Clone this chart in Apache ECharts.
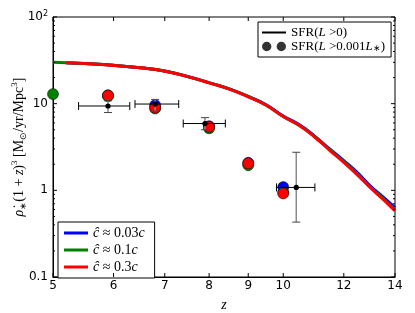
<!DOCTYPE html>
<html><head><meta charset="utf-8">
<script src="https://cdn.jsdelivr.net/npm/echarts@6/dist/echarts.min.js"></script>
<style>html,body{margin:0;padding:0;background:#fff}#c{width:415px;height:313px}</style>
</head><body><div id="c"></div><script>
// ---- data ----
const curveZ     = [5, 5.2, 5.5, 6, 6.5, 7, 7.5, 8, 8.5, 9, 9.5, 10, 10.5, 11, 11.5, 12, 12.5, 13, 13.5, 14];
const curveBlue  = [null, 29.7, 29.0, 27.7, 26.0, 23.8, 20.6, 17.5, 14.8, 12.1, 9.7, 7.2, 5.7, 4.2, 3.0, 2.2, 1.6, 1.12, 0.84, 0.63];
const curveGreen = [30.0, 29.7, 29.0, 27.7, 26.0, 23.8, 20.5, 17.4, 14.8, 12.1, 9.6, 7.1, 5.6, 4.15, 2.95, 2.15, 1.55, 1.09, 0.81, 0.60];
const curveRed   = [null, 29.6, 29.0, 27.6, 25.9, 23.7, 20.5, 17.4, 14.7, 12.0, 9.6, 7.1, 5.6, 4.1, 2.9, 2.1, 1.51, 1.07, 0.79, 0.58];

const ptZBlue  = [5.9, 6.8, 8.0, 9.0, 10.0];
const ptBlue   = [12.5, 9.6, 5.5, 2.08, 1.09];
const ptZGreen = [5.0, 5.9, 6.8, 8.0, 9.0, 10.0];
const ptGreen  = [12.9, 12.2, 8.8, 5.2, 1.95, 0.95];
const ptZRed   = [5.9, 6.8, 8.0, 9.0, 10.0];
const ptRed    = [12.4, 9.0, 5.4, 2.05, 0.92];

const obsZ   = [5.9, 6.8, 7.9, 10.4];
const obsZLo = [5.4, 6.4, 7.4, 9.8];
const obsZHi = [6.3, 7.3, 8.4, 11.0];
const obsV   = [9.4, 9.9, 5.9, 1.08];
const obsVLo = [7.9, 8.2, 5.0, 0.43];
const obsVHi = [10.8, 11.2, 6.9, 2.75];

const xTicks = [5, 6, 7, 8, 9, 10, 12, 14];
const yMajor = [0.1, 1, 10, 100];
const yMinor = [0.2, 0.3, 0.4, 0.5, 0.6, 0.7, 0.8, 0.9, 2, 3, 4, 5, 6, 7, 8, 9, 20, 30, 40, 50, 60, 70, 80, 90];

const X_MIN = 5, X_MAX = 14, Y_MIN = 0.1, Y_MAX = 100;

// ---- helpers ----
function zip(xs, ys) { const out = []; xs.forEach((x, i) => { if (ys[i] != null) out.push([x, ys[i]]); }); return out; }

const serif = 'Liberation Serif';
const sans = 'DejaVu Sans';

const legendLabels = {
  sfr0: '{n|SFR(}{i|L}{n| >0)}',
  sfr1: '{n|SFR(}{i|L}{n| >0.001}{i|L}{s|∗}{n|)}',
  c003: '{i|ĉ}{n| ≈ 0.03}{i|c}',
  c01:  '{i|ĉ}{n| ≈ 0.1}{i|c}',
  c03:  '{i|ĉ}{n| ≈ 0.3}{i|c}'
};
function rich(fs) {
  return {
    n: { fontFamily: serif, fontSize: fs, color: '#000' },
    i: { fontFamily: serif, fontSize: fs, fontStyle: 'italic', color: '#000' },
    s: { fontFamily: serif, fontSize: Math.round(fs * 0.7), color: '#000', verticalAlign: 'bottom' }
  };
}
// line icons: thin band inside a 24x10 box (degenerate corner pieces keep the box)
const lineIcon2 = 'path://M0,0L24,0L24,0.001L0,0.001ZM0,4L24,4L24,6L0,6ZM0,9.999L24,9.999L24,10L0,10Z';
const lineIcon3 = 'path://M0,0L24,0L24,0.001L0,0.001ZM0,3.5L24,3.5L24,6.5L0,6.5ZM0,9.999L24,9.999L24,10L0,10Z';
const dotsIcon = 'path://M0,5a4.5,4.5 0 1,0 9,0a4.5,4.5 0 1,0 -9,0M14,5a4.5,4.5 0 1,0 9,0a4.5,4.5 0 1,0 -9,0';

function errRender(params, api) {
  const z = api.value(0), v = api.value(1), zl = api.value(2), zh = api.value(3), vl = api.value(4), vh = api.value(5);
  const pL = api.coord([zl, v]), pR = api.coord([zh, v]);
  const pB = api.coord([z, vl]), pT = api.coord([z, vh]), pC = api.coord([z, v]);
  const blk = { stroke: '#000', lineWidth: 1 };
  const gry = { stroke: '#8a8a8a', lineWidth: 1.5 };
  const cap = 4;
  return { type: 'group', children: [
    { type: 'line', shape: { x1: pB[0], y1: pB[1], x2: pT[0], y2: pT[1] }, style: gry },
    { type: 'line', shape: { x1: pB[0] - cap, y1: pB[1], x2: pB[0] + cap, y2: pB[1] }, style: { stroke: '#444', lineWidth: 1 } },
    { type: 'line', shape: { x1: pT[0] - cap, y1: pT[1], x2: pT[0] + cap, y2: pT[1] }, style: { stroke: '#444', lineWidth: 1 } },
    { type: 'line', shape: { x1: pL[0], y1: pL[1], x2: pR[0], y2: pR[1] }, style: blk },
    { type: 'line', shape: { x1: pL[0], y1: pL[1] - cap, x2: pL[0], y2: pL[1] + cap }, style: blk },
    { type: 'line', shape: { x1: pR[0], y1: pR[1] - cap, x2: pR[0], y2: pR[1] + cap }, style: blk },
    { type: 'circle', shape: { cx: pC[0], cy: pC[1], r: 2.6 }, style: { fill: '#000' } }
  ] };
}

function xTickRender(params, api) {
  const v = api.value(0);
  const b = api.coord([v, Y_MIN]), t = api.coord([v, Y_MAX]);
  const st = { stroke: '#000', lineWidth: 1 };
  return { type: 'group', children: [
    { type: 'line', shape: { x1: b[0], y1: b[1], x2: b[0], y2: b[1] - 4 }, style: st },
    { type: 'line', shape: { x1: t[0], y1: t[1], x2: t[0], y2: t[1] + 4 }, style: st },
    { type: 'text', x: b[0], y: b[1] + 3, style: { text: String(v), fill: '#000', font: '12px "DejaVu Sans"', textAlign: 'center', textVerticalAlign: 'top' } }
  ] };
}

function yTickRender(len) {
  return function (params, api) {
    const v = api.value(1);
    const l = api.coord([X_MIN, v]), r = api.coord([X_MAX, v]);
    const st = { stroke: '#000', lineWidth: 1 };
    return { type: 'group', children: [
      { type: 'line', shape: { x1: l[0], y1: l[1], x2: l[0] + len, y2: l[1] }, style: st },
      { type: 'line', shape: { x1: r[0], y1: r[1], x2: r[0] - len, y2: r[1] }, style: st }
    ] };
  };
}

const chart = echarts.init(document.getElementById('c'), null, { renderer: 'canvas' });
chart.setOption({
  animation: false,
  backgroundColor: '#fff',
  grid: { left: 53, right: 20, top: 17, bottom: 36, containLabel: false, outerBoundsMode: 'none',
          show: true, borderColor: '#000', borderWidth: 1, backgroundColor: 'transparent' },
  xAxis: {
    type: 'log', logBase: 10, min: X_MIN, max: X_MAX,
    axisLine: { show: true, lineStyle: { color: '#000', width: 1 } },
    axisTick: { show: false }, axisLabel: { show: false }, splitLine: { show: false }, minorTick: { show: false },
    name: 'z', nameLocation: 'middle', nameGap: 21, nameMoveOverlap: false,
    nameTextStyle: { fontFamily: serif, fontStyle: 'italic', fontSize: 14, color: '#000' }
  },
  yAxis: {
    type: 'log', logBase: 10, min: Y_MIN, max: Y_MAX,
    axisLine: { show: true, lineStyle: { color: '#000', width: 1 } },
    axisTick: { show: false }, splitLine: { show: false },
    axisLabel: {
      color: '#000', fontFamily: sans, fontSize: 12, margin: 5,
      formatter: function (v) {
        const n = Number(Number(v).toPrecision(3));
        if (n >= 100) return '{b|10}{s|2}';
        return '{b|' + n + '}';
      },
      rich: {
        b: { fontFamily: sans, fontSize: 12, color: '#000', lineHeight: 15 },
        s: { fontFamily: sans, fontSize: 8, color: '#000', verticalAlign: 'top', lineHeight: 15 }
      }
    },
    name: '{i|ρ̇}{sub|∗}{n|(1 + }{i|z}{n|)}{sup|3}{n| [M}{sub|⊙}{n|/yr/Mpc}{sup|3}{n|]}',
    nameLocation: 'middle', nameGap: 25, nameRotate: 90, nameMoveOverlap: false,
    nameTextStyle: {
      rich: {
        n: { fontFamily: serif, fontSize: 14, color: '#000', lineHeight: 18 },
        i: { fontFamily: serif, fontSize: 14, fontStyle: 'italic', color: '#000', lineHeight: 18 },
        sup: { fontFamily: serif, fontSize: 9, color: '#000', verticalAlign: 'top', lineHeight: 18 },
        sub: { fontFamily: serif, fontSize: 9, color: '#000', verticalAlign: 'bottom', lineHeight: 18 }
      }
    }
  },
  legend: [
    {
      data: [{ name: 'sfr0', icon: lineIcon2 }, { name: 'sfr1', icon: dotsIcon }],
      orient: 'vertical', left: 258, top: 22, itemWidth: 24, itemHeight: 10, itemGap: 1,
      padding: [4, 6, 4, 4], borderColor: '#000', borderWidth: 1, borderRadius: 0, backgroundColor: '#fff',
      formatter: n => legendLabels[n], textStyle: { rich: rich(13) }, selectedMode: false
    },
    {
      data: [{ name: 'c003', icon: lineIcon3 }, { name: 'c01', icon: lineIcon3 }, { name: 'c03', icon: lineIcon3 }],
      orient: 'vertical', left: 58, top: 222, itemWidth: 24, itemHeight: 10, itemGap: 3,
      padding: [4, 10, 4, 6], borderColor: '#000', borderWidth: 1, borderRadius: 0, backgroundColor: '#fff',
      formatter: n => legendLabels[n], textStyle: { rich: rich(14) }, selectedMode: false
    }
  ],
  series: [
    { name: 'c003', type: 'line', data: zip(curveZ, curveBlue), symbol: 'none', smooth: true, z: 2,
      lineStyle: { color: '#0000ff', width: 3 }, itemStyle: { color: '#0000ff' } },
    { name: 'c01', type: 'line', data: zip(curveZ, curveGreen), symbol: 'none', smooth: true, z: 2,
      lineStyle: { color: '#008000', width: 3 }, itemStyle: { color: '#008000' } },
    { name: 'c03', type: 'line', data: zip(curveZ, curveRed), symbol: 'none', smooth: true, z: 2,
      lineStyle: { color: '#ff0000', width: 3 }, itemStyle: { color: '#ff0000' } },
    { name: 'ptBlue', type: 'scatter', data: zip(ptZBlue, ptBlue), symbolSize: 11, z: 3,
      itemStyle: { color: '#0000ff', borderColor: '#000', borderWidth: 0.5, opacity: 1 } },
    { name: 'ptGreen', type: 'scatter', data: zip(ptZGreen, ptGreen), symbolSize: 11, z: 3,
      itemStyle: { color: '#008000', borderColor: '#000', borderWidth: 0.5, opacity: 1 } },
    { name: 'ptRed', type: 'scatter', data: zip(ptZRed, ptRed), symbolSize: 11, z: 3,
      itemStyle: { color: '#ff0000', borderColor: '#000', borderWidth: 0.5, opacity: 1 } },
    { name: 'obs', type: 'custom', z: 4, renderItem: errRender,
      data: obsZ.map((z, i) => [z, obsV[i], obsZLo[i], obsZHi[i], obsVLo[i], obsVHi[i]]),
      encode: { x: [0, 2, 3], y: [1, 4, 5] } },
    { name: 'sfr0', type: 'line', data: [], symbol: 'none', lineStyle: { color: '#000', width: 2 }, itemStyle: { color: '#000' } },
    { name: 'sfr1', type: 'scatter', data: [], itemStyle: { color: '#000' } },
    { name: 'xticks', type: 'custom', z: 5, silent: true, renderItem: xTickRender, data: xTicks.map(v => [v, Y_MIN]) },
    { name: 'ymajor', type: 'custom', z: 5, silent: true, renderItem: yTickRender(4), data: yMajor.map(v => [X_MIN, v]) },
    { name: 'yminor', type: 'custom', z: 5, silent: true, renderItem: yTickRender(2), data: yMinor.map(v => [X_MIN, v]) }
  ]
});
</script></body></html>
